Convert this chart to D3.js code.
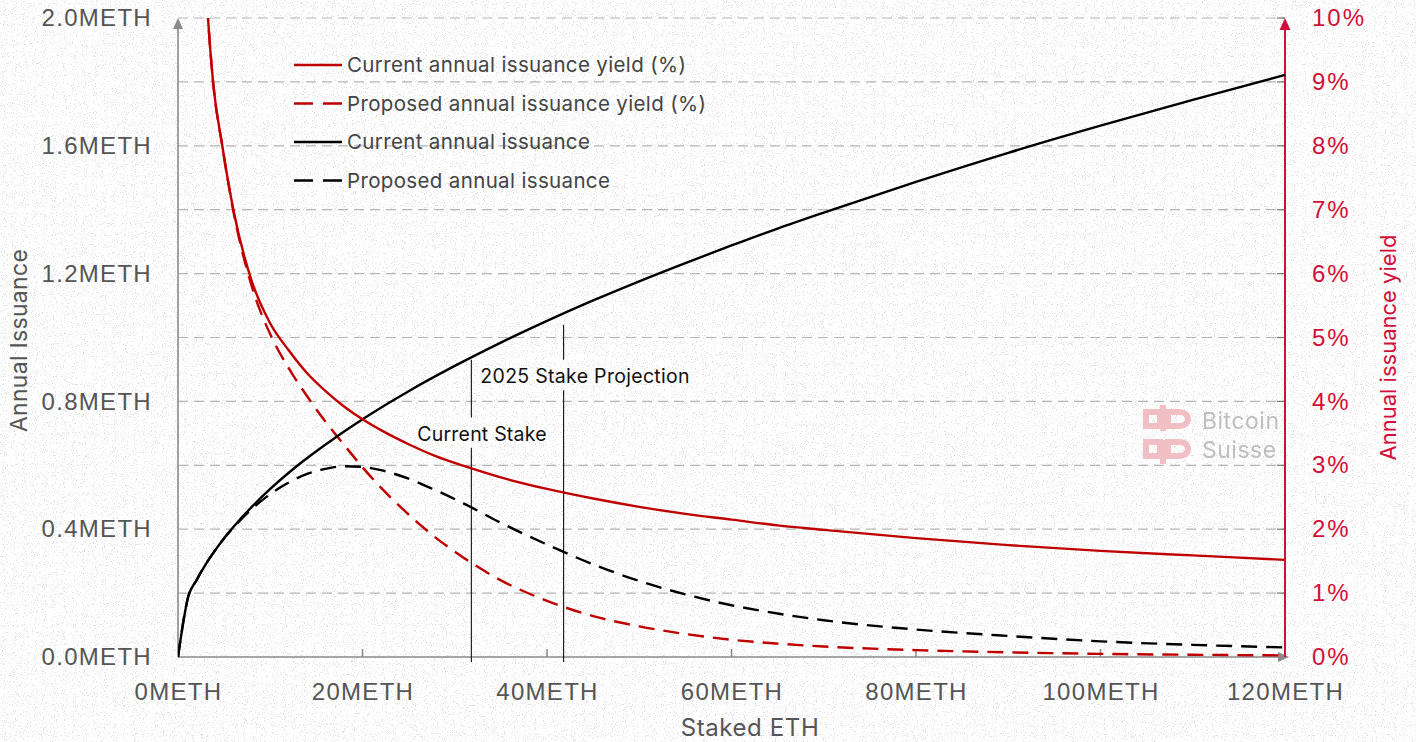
<!DOCTYPE html>
<html>
<head>
<meta charset="utf-8">
<script src="https://cdn.jsdelivr.net/npm/d3@7"></script>
<style>
  html, body { margin: 0; padding: 0; background: #fff; }
  svg { display: block; font-family: "Inter", "Liberation Sans", sans-serif; }
</style>
</head>
<body>
<svg id="chart" width="1416" height="742"></svg>
<script>
// ---------------- DATA ----------------
// Staked ETH in millions (METH)
const issuanceX = [0, 1.12, 2, 3, 4, 5, 6, 8, 10, 13, 16, 20, 25, 30, 35, 40, 45, 50, 55, 60, 65, 70, 80, 90, 100, 110, 120];
const currentIssuance = [0, 0.19, 0.24, 0.29, 0.333, 0.372, 0.407, 0.470, 0.526, 0.600, 0.665, 0.744, 0.832, 0.911, 0.984, 1.052, 1.116, 1.176, 1.233, 1.288, 1.341, 1.391, 1.487, 1.578, 1.663, 1.744, 1.822];

const proposedX = [0, 1.12, 2, 3, 4, 5, 6, 8, 10, 12, 14, 16, 18, 20, 22, 25, 28, 31, 35, 40, 45, 50, 55, 60, 65, 70, 80, 90, 100, 110, 120];
const proposedIssuance = [0, 0.19, 0.24, 0.29, 0.333, 0.372, 0.405, 0.463, 0.510, 0.546, 0.573, 0.589, 0.597, 0.595, 0.585, 0.558, 0.521, 0.480, 0.420, 0.352, 0.290, 0.238, 0.196, 0.162, 0.136, 0.115, 0.086, 0.066, 0.049, 0.038, 0.030];

const yieldX = [3.0, 3.25, 3.8, 4.8, 6, 8, 10, 12, 14, 16, 18, 20, 22, 25, 28, 31, 35, 40, 45, 50, 55, 60, 65, 70, 80, 90, 100, 110, 120];
const currentYield = [10.6, 10.0, 9.0, 8.0, 7.0, 5.88, 5.22, 4.80, 4.44, 4.16, 3.92, 3.72, 3.55, 3.33, 3.14, 2.99, 2.81, 2.63, 2.48, 2.35, 2.24, 2.15, 2.06, 1.99, 1.86, 1.75, 1.66, 1.59, 1.52];
const proposedYield = [10.6, 10.0, 9.0, 8.0, 6.98, 5.80, 5.05, 4.52, 4.08, 3.68, 3.32, 2.97, 2.65, 2.23, 1.86, 1.55, 1.20, 0.88, 0.64, 0.48, 0.36, 0.27, 0.21, 0.164, 0.108, 0.073, 0.049, 0.035, 0.025];

const xTicks = [0, 20, 40, 60, 80, 100, 120];
const yLeftTicks = [0, 0.4, 0.8, 1.2, 1.6, 2.0];
const yGrid = [0.2, 0.4, 0.6, 0.8, 1.0, 1.2, 1.4, 1.6, 1.8, 2.0];
const yRightTicks = [0, 1, 2, 3, 4, 5, 6, 7, 8, 9, 10];

const markers = [
  { x: 31.8, label: "Current Stake" },
  { x: 41.8, label: "2025 Stake Projection" }
];

const legendItems = [
  { label: "Current annual issuance yield (%)", color: "#c00000", dash: null },
  { label: "Proposed annual issuance yield (%)", color: "#c00000", dash: "16,9" },
  { label: "Current annual issuance", color: "#000", dash: null },
  { label: "Proposed annual issuance", color: "#000", dash: "16,9" }
];

// ---------------- LAYOUT ----------------
const svg = d3.select("#chart");
const W = 1416, H = 742;
const m = { left: 178, right: 1416 - 1285, top: 18, bottom: 742 - 657 };
const x = d3.scaleLinear().domain([0, 120]).range([m.left, W - m.right]);
const yL = d3.scaleLinear().domain([0, 2]).range([H - m.bottom, m.top]);
const yR = d3.scaleLinear().domain([0, 10]).range([H - m.bottom, m.top]);

const RED = "#c00000";
const AXRED = "#d0103a";
const GRAYTXT = "#555";

// background noise texture
const defs = svg.append("defs");
const f = defs.append("filter").attr("id", "noise").attr("x", 0).attr("y", 0).attr("width", "100%").attr("height", "100%");
f.append("feTurbulence").attr("type", "fractalNoise").attr("baseFrequency", 0.9).attr("numOctaves", 2).attr("seed", 3).attr("result", "t");
f.append("feColorMatrix").attr("in", "t").attr("type", "matrix")
  .attr("values", "0 0 0 0 0.55  0 0 0 0 0.55  0 0 0 0 0.55  10 0 0 0 -6.0");
svg.append("rect").attr("width", W).attr("height", H).attr("fill", "#fff");
svg.append("rect").attr("width", W).attr("height", H).attr("filter", "url(#noise)").attr("opacity", 0.5);

defs.append("clipPath").attr("id", "plotclip").append("rect")
  .attr("x", m.left).attr("y", m.top).attr("width", x(120) - m.left + 2).attr("height", yL(0) - m.top + 2);

// gridlines
svg.append("g").selectAll("line").data(yGrid).join("line")
  .attr("x1", m.left).attr("x2", x(120))
  .attr("y1", d => yL(d)).attr("y2", d => yL(d))
  .attr("stroke", "#b5b5b5").attr("stroke-width", 1.2).attr("stroke-dasharray", "10,6");

// right axis inner ticks
svg.append("g").selectAll("line").data(yRightTicks.slice(1)).join("line")
  .attr("x1", x(120) - 8).attr("x2", x(120))
  .attr("y1", d => yR(d)).attr("y2", d => yR(d))
  .attr("stroke", "#777").attr("stroke-width", 1.2);

// bottom axis
const xAxis = d3.axisBottom(x).tickValues(xTicks).tickSize(0).tickFormat(d => d + "METH");
const gx = svg.append("g").attr("transform", `translate(0,${yL(0)})`).call(xAxis);
gx.select(".domain").remove();
gx.selectAll("text").attr("dy", 0).attr("y", 43).attr("fill", GRAYTXT)
  .style("font-size", "24px").style("letter-spacing", "1.3px");
svg.append("g").selectAll("line").data(xTicks.slice(1, -1)).join("line")
  .attr("x1", d => x(d)).attr("x2", d => x(d)).attr("y1", yL(0) - 8).attr("y2", yL(0))
  .attr("stroke", "#888").attr("stroke-width", 1.5);
svg.append("line").attr("x1", m.left).attr("x2", x(120)).attr("y1", yL(0)).attr("y2", yL(0))
  .attr("stroke", "#8a8a8a").attr("stroke-width", 1.6);
svg.append("path").attr("d", `M${x(120) + 4},${yL(0)} l-11,-5 l0,10 z`).attr("fill", "#8a8a8a");

// left axis
const yAxisL = d3.axisLeft(yL).tickValues(yLeftTicks).tickSize(0).tickFormat(d => d.toFixed(1) + "METH");
const gl = svg.append("g").attr("transform", `translate(${m.left},0)`).call(yAxisL);
gl.select(".domain").remove();
gl.selectAll("text").attr("x", -26).attr("fill", GRAYTXT)
  .style("font-size", "24px").style("letter-spacing", "1.3px");
svg.append("line").attr("x1", m.left).attr("x2", m.left).attr("y1", yL(0)).attr("y2", m.top + 6)
  .attr("stroke", "#8a8a8a").attr("stroke-width", 1.6);
svg.append("path").attr("d", `M${m.left},${m.top} l-5,11 l10,0 z`).attr("fill", "#8a8a8a");

// right axis
const yAxisR = d3.axisRight(yR).tickValues(yRightTicks).tickSize(0).tickFormat(d => d + "%");
const gr = svg.append("g").attr("transform", `translate(${x(120)},0)`).call(yAxisR);
gr.select(".domain").remove();
gr.selectAll("text").attr("x", 27).attr("fill", AXRED)
  .style("font-size", "24px").style("letter-spacing", "2px");
svg.append("line").attr("x1", x(120)).attr("x2", x(120)).attr("y1", yL(0)).attr("y2", m.top + 6)
  .attr("stroke", AXRED).attr("stroke-width", 2);
svg.append("path").attr("d", `M${x(120)},${m.top} l-5.5,12 l11,0 z`).attr("fill", AXRED);

// axis titles
svg.append("text").attr("transform", `translate(27,${(m.top + yL(0)) / 2 + 3}) rotate(-90)`)
  .attr("text-anchor", "middle").attr("fill", GRAYTXT).style("font-size", "23px").style("letter-spacing", "0.3px").text("Annual Issuance");
svg.append("text").attr("transform", `translate(1396,${(m.top + yL(0)) / 2 + 10}) rotate(-90)`)
  .attr("text-anchor", "middle").attr("fill", AXRED).style("font-size", "22px").text("Annual issuance yield");
svg.append("text").attr("x", 750).attr("y", 736)
  .attr("text-anchor", "middle").attr("fill", GRAYTXT).style("font-size", "24px").style("letter-spacing", "0.6px").text("Staked ETH");

// watermark
const wm = svg.append("g").attr("opacity", 0.85);
wm.append("path").attr("d", "M1146,412 h14 v14 h-14 z M1163,405 v26 M1168,412 h12 a8,7 0 0 1 0,14 h-12 z")
  .attr("fill", "none").attr("stroke", "#f0b4bc").attr("stroke-width", 6);
wm.append("path").attr("d", "M1146,442 h14 v14 h-14 z M1163,440 v24 M1168,442 h12 a8,7 0 0 1 0,14 h-12 z")
  .attr("fill", "none").attr("stroke", "#f0b4bc").attr("stroke-width", 6);
wm.append("text").attr("x", 1202).attr("y", 429).attr("fill", "#b5b5b5").style("font-size", "23px").style("letter-spacing", "0.5px").text("Bitcoin");
wm.append("text").attr("x", 1202).attr("y", 458).attr("fill", "#b5b5b5").style("font-size", "23px").style("letter-spacing", "0.5px").text("Suisse");

// marker lines
const mk = svg.append("g");
markers.forEach((d, i) => {
  const px = x(d.x);
  const segs = i === 0 ? [[yL(0.93), yL(0.75)], [yL(0.655), yL(0) + 5]] : [[yL(1.04), yL(0.93)], [yL(0.835), yL(0) + 5]];
  segs.forEach(s => mk.append("line").attr("x1", px).attr("x2", px).attr("y1", s[0]).attr("y2", s[1])
    .attr("stroke", "#111").attr("stroke-width", 1.1));
});
mk.append("text").attr("x", x(markers[0].x) - 54).attr("y", 441).attr("fill", "#111").style("font-size", "19.5px").style("letter-spacing", "0.2px").text(markers[0].label);
mk.append("text").attr("x", x(markers[0].x) + 9).attr("y", 383).attr("fill", "#111").style("font-size", "19.5px").style("letter-spacing", "0.3px").text(markers[1].label);

// lines
const plot = svg.append("g").attr("clip-path", "url(#plotclip)");
const lineL = d3.line().x(d => x(d[0])).y(d => yL(d[1])).curve(d3.curveMonotoneX);
const lineR = d3.line().x(d => x(d[0])).y(d => yR(d[1])).curve(d3.curveMonotoneX);

plot.append("path").datum(d3.zip(proposedX, proposedIssuance)).attr("d", lineL)
  .attr("fill", "none").attr("stroke", "#000").attr("stroke-width", 2.4).attr("stroke-dasharray", "16,9");
plot.append("path").datum(d3.zip(yieldX, proposedYield)).attr("d", lineR)
  .attr("fill", "none").attr("stroke", RED).attr("stroke-width", 2.4).attr("stroke-dasharray", "16,9");
plot.append("path").datum(d3.zip(issuanceX, currentIssuance)).attr("d", lineL)
  .attr("fill", "none").attr("stroke", "#000").attr("stroke-width", 2.4);
plot.append("path").datum(d3.zip(yieldX, currentYield)).attr("d", lineR)
  .attr("fill", "none").attr("stroke", RED).attr("stroke-width", 2.4);

// legend
const lg = svg.append("g").attr("transform", "translate(294,65)");
legendItems.forEach((d, i) => {
  const g = lg.append("g").attr("transform", `translate(0,${i * 38.5})`);
  g.append("line").attr("x1", 0).attr("x2", 48).attr("y1", 0).attr("y2", 0)
    .attr("stroke", d.color).attr("stroke-width", 2.4).attr("stroke-dasharray", d.dash ? "19,10" : null);
  g.append("text").attr("x", 53).attr("y", 7).attr("fill", "#444").style("font-size", "20.5px").style("letter-spacing", "0.35px").text(d.label);
});
</script>
</body>
</html>
